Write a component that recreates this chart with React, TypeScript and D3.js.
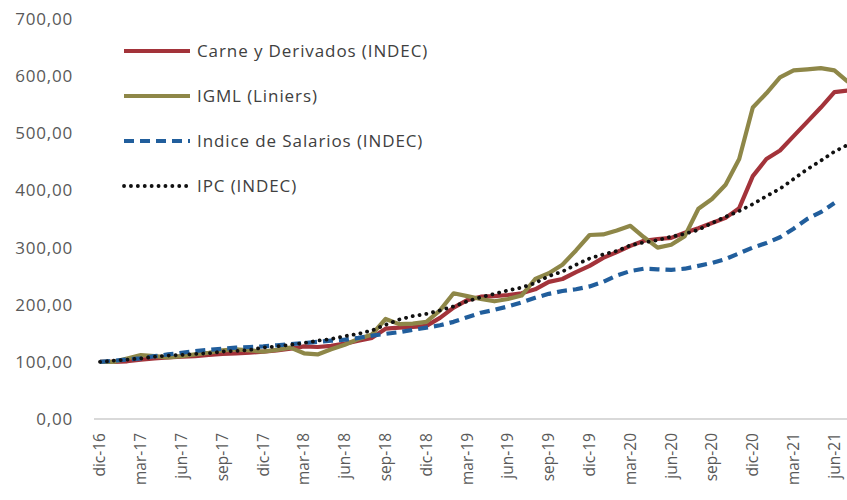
import { useEffect, useRef } from "react";
import * as d3 from "d3";

const months = [
  "dic-16", "ene-17", "feb-17", "mar-17", "abr-17", "may-17", "jun-17", "jul-17", "ago-17", "sep-17", "oct-17", "nov-17",
  "dic-17", "ene-18", "feb-18", "mar-18", "abr-18", "may-18", "jun-18", "jul-18", "ago-18", "sep-18", "oct-18", "nov-18",
  "dic-18", "ene-19", "feb-19", "mar-19", "abr-19", "may-19", "jun-19", "jul-19", "ago-19", "sep-19", "oct-19", "nov-19",
  "dic-19", "ene-20", "feb-20", "mar-20", "abr-20", "may-20", "jun-20", "jul-20", "ago-20", "sep-20", "oct-20", "nov-20",
  "dic-20", "ene-21", "feb-21", "mar-21", "abr-21", "may-21", "jun-21", "jul-21",
];

const carne = [
  100, 100, 101, 104, 106, 108, 109, 110, 112, 114, 115, 116,
  118, 120, 123, 127, 126, 128, 132, 137, 142, 158, 160, 161,
  163, 177, 195, 208, 214, 215, 217, 220, 227, 240, 245, 257,
  268, 282, 292, 303, 312, 315, 317, 326, 334, 343, 352, 369,
  425, 455, 470, 495, 520, 545, 572, 575,
];

const igml = [
  100, 100, 106, 112, 110, 108, 110, 113, 116, 120, 122, 120,
  118, 121, 125, 115, 113, 122, 130, 140, 148, 175, 166, 167,
  170, 190, 220, 215, 210, 206, 210, 216, 245, 255, 270, 295,
  322, 323, 330, 338, 318, 300, 305, 320, 368, 385, 410, 455,
  545, 570, 598, 610, 612, 614, 610, 590,
];

const salarios = [
  100, 102, 104, 106, 110, 113, 116, 119, 121, 123, 125, 126,
  127, 129, 131, 133, 135, 137, 139, 142, 146, 149, 152, 156,
  160, 164, 170, 178, 186, 191, 197, 204, 212, 219, 224, 227,
  232, 240, 251, 259, 263, 262, 261, 263, 268, 273, 280, 290,
  300, 308, 318, 333, 350, 362, 378,
];

const ipc = [
  100, 102, 104, 106, 109, 111, 112, 114, 115, 118, 119, 121,
  125, 127, 130, 133, 137, 140, 145, 149, 155, 165, 174, 180,
  184, 190, 197, 206, 213, 219, 225, 230, 238, 250, 258, 270,
  281, 288, 294, 304, 309, 313, 319, 324, 331, 343, 354, 364,
  376, 390, 403, 420, 437, 452, 468, 480,
];

const yTicks = [0, 100, 200, 300, 400, 500, 600, 700];

const series = [
  { name: "Carne y Derivados (INDEC)", values: carne, color: "#A3333A", dash: null, cap: "butt", width: 4.2 },
  { name: "IGML (Liniers)", values: igml, color: "#8E8748", dash: null, cap: "butt", width: 4.2 },
  { name: "Indice de Salarios (INDEC)", values: salarios, color: "#215E9C", dash: "10,6", cap: "butt", width: 4.2 },
  { name: "IPC (INDEC)", values: ipc, color: "#111111", dash: "0.1,6.8", cap: "round", width: 3.8 },
];

const W = 847;
const H = 500;

export default function App() {
  const ref = useRef<SVGSVGElement>(null);

  useEffect(() => {
    const svg = d3.select(ref.current);
    svg.selectAll("*").remove();

    const x = d3.scalePoint().domain(months).range([100, 100 + 13.6 * (months.length - 1)]);
    const y = d3.scaleLinear().domain([0, 700]).range([419, 19]);

    const font = "Open Sans, Liberation Sans, sans-serif";

    // baseline
    svg
      .append("line")
      .attr("x1", 94)
      .attr("x2", W)
      .attr("y1", y(0))
      .attr("y2", y(0))
      .attr("stroke", "#D9D9D9")
      .attr("stroke-width", 2);

    // y labels
    svg
      .append("g")
      .selectAll("text")
      .data(yTicks)
      .enter()
      .append("text")
      .attr("x", 73)
      .attr("y", (d) => y(d))
      .attr("dy", "0.35em")
      .attr("text-anchor", "end")
      .attr("font-family", font)
      .attr("font-size", 17)
      .attr("letter-spacing", 0.8)
      .attr("fill", "#595959")
      .text((d) => d3.format(".2f")(d).replace(".", ","));

    // x labels
    svg
      .append("g")
      .selectAll("text")
      .data(months.filter((_, i) => i % 3 === 0))
      .enter()
      .append("text")
      .attr("transform", (d) => `translate(${x(d)},433) rotate(-90)`)
      .attr("dy", "0.35em")
      .attr("text-anchor", "end")
      .attr("font-family", font)
      .attr("font-size", 15.5)
      .attr("fill", "#595959")
      .text((d) => d);

    const line = d3
      .line<number>()
      .x((_, i) => x(months[i]) as number)
      .y((d) => y(d));

    series.forEach((s) => {
      svg
        .append("path")
        .datum(s.values)
        .attr("d", line)
        .attr("fill", "none")
        .attr("stroke", s.color)
        .attr("stroke-width", s.width)
        .attr("stroke-linejoin", "round")
        .attr("stroke-linecap", s.cap)
        .attr("stroke-dasharray", s.dash);
    });

    // legend
    const legendY = [51, 96, 141, 186];
    const lg = svg.append("g");
    series.forEach((s, i) => {
      lg.append("line")
        .attr("x1", 124)
        .attr("x2", 190)
        .attr("y1", legendY[i])
        .attr("y2", legendY[i])
        .attr("stroke", s.color)
        .attr("stroke-width", s.width)
        .attr("stroke-linecap", s.cap)
        .attr("stroke-dasharray", s.dash);
      lg.append("text")
        .attr("x", 197)
        .attr("y", legendY[i])
        .attr("dy", "0.35em")
        .attr("font-family", font)
        .attr("font-size", 17)
        .attr("letter-spacing", 0.9)
        .attr("fill", "#404040")
        .text(s.name);
    });
  }, []);

  return (
    <svg
      ref={ref}
      width={W}
      height={H}
      style={{ position: "absolute", left: 0, top: 0, background: "#fff" }}
    />
  );
}
